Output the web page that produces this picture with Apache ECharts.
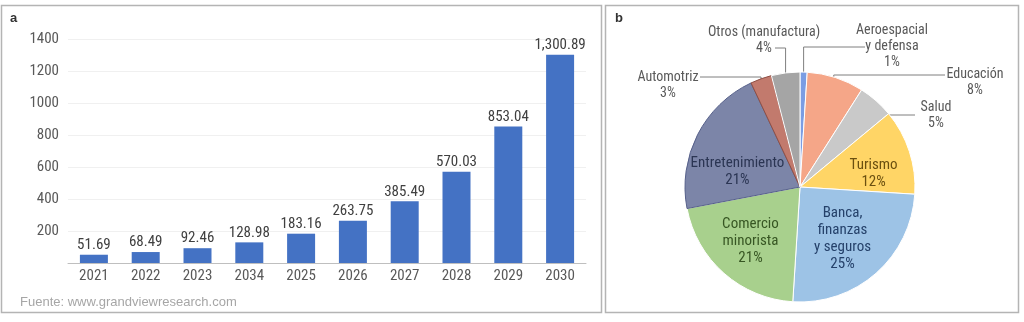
<!DOCTYPE html>
<html>
<head>
<meta charset="utf-8">
<title>Mercado y sectores</title>
<script src="https://cdn.jsdelivr.net/npm/echarts@6/dist/echarts.min.js"></script>
<style>
  html, body { margin: 0; padding: 0; background: #fff; }
  #chart { width: 1024px; height: 322px; }
</style>
</head>
<body>
<div id="chart"></div>
<script>
// Panel a: market size by year
const years = ['2021', '2022', '2023', '2034', '2025', '2026', '2027', '2028', '2029', '2030'];
const marketValues = [51.69, 68.49, 92.46, 128.98, 183.16, 263.75, 385.49, 570.03, 853.04, 1300.89];
const yAxisMin = 0;
const yAxisMax = 1400;
const yAxisStep = 200;

// Panel b: share by sector (%)
const sectorNames = [
  'Aeroespacial\ny defensa',
  'Educación',
  'Salud',
  'Turismo',
  'Banca,\nfinanzas\ny seguros',
  'Comercio\nminorista',
  'Entretenimiento',
  'Automotriz',
  'Otros (manufactura)'
];
const sectorShares = [1, 8, 5, 12, 25, 21, 21, 3, 4];

// ---- styling ----
const NARROW = "'Roboto Condensed', 'Noto Sans Condensed', 'Liberation Sans Narrow', 'Arial Narrow', 'DejaVu Sans Condensed', sans-serif";
const sliceColors = ['#7b9de3', '#f5a688', '#c9c9c9', '#ffd566', '#9dc3e6', '#a8d08d', '#7c85a8', '#c27a6d', '#a5a5a5'];
const sliceBorders = ['#ffffff', '#ffffff', '#ffffff', '#ffffff', '#ffffff', '#ffffff', '#56608a', '#8f4f45', '#ffffff'];
const innerTextColors = { 3: '#6b5010', 4: '#25416a', 5: '#375623', 6: '#2b3553' };

// pie geometry
const PIE_CX = 800, PIE_CY = 187, PIE_R = 115;

const total = sectorShares.reduce((a, b) => a + b, 0);
const midAngles = [];
{
  let acc = 0;
  sectorShares.forEach(v => { midAngles.push((acc + v / 2) / total * 360); acc += v; });
}
function polar(angleDeg, rf) {
  const a = angleDeg * Math.PI / 180;
  return [PIE_CX + PIE_R * rf * Math.sin(a), PIE_CY - PIE_R * rf * Math.cos(a)];
}

// label placement: outer labels with elbow leader lines, inner labels by polar spot
const outerLabels = {
  0: { rf: 1.0, elbowY: 47, endX: 865, at: [892, 46] },
  1: { rf: 0.95, elbowY: 75, endX: 945, at: [975, 82.5] },
  2: { angle: 49.5, rf: 0.97, elbowY: 115, endX: 915, at: [936, 115] },
  7: { rf: 1.0, elbowY: 77, endX: 700, at: [668, 85.5] },
  8: { rf: 1.0, elbowY: 48, endX: 775, at: [764, 40.5] }
};
const innerLabels = {
  3: { angle: 79.7, rf: 0.65 },
  4: { angle: 140.4, rf: 0.58 },
  5: { angle: 222.3, rf: 0.64 },
  6: { angle: 283.6, rf: 0.56 }
};

const pieData = sectorNames.map((name, i) => {
  const inner = innerLabels[i] !== undefined;
  return {
    name: name,
    value: sectorShares[i],
    itemStyle: { color: sliceColors[i], borderColor: sliceBorders[i], borderWidth: 1 },
    label: {
      position: inner ? 'inside' : 'outside',
      rich: {
        t: {
          align: 'center',
          fontFamily: NARROW,
          fontSize: inner ? 15 : 14,
          lineHeight: inner ? 17 : 16,
          color: inner ? innerTextColors[i] : '#595959'
        }
      }
    },
    labelLine: { show: !inner }
  };
});

const chart = echarts.init(document.getElementById('chart'), null, { renderer: 'canvas' });

chart.setOption({
  animation: false,
  backgroundColor: '#ffffff',
  grid: { left: 68, top: 39, width: 518, height: 224, containLabel: false },
  xAxis: {
    type: 'category',
    data: years,
    axisLine: { lineStyle: { color: '#bfbfbf', width: 1 } },
    axisTick: { show: false },
    axisLabel: { color: '#595959', fontFamily: NARROW, fontSize: 15, margin: 6 }
  },
  yAxis: {
    type: 'value',
    min: yAxisMin,
    max: yAxisMax,
    interval: yAxisStep,
    axisLine: { show: false },
    axisTick: { show: false },
    splitLine: { lineStyle: { color: '#f0f0f0', width: 1 } },
    axisLabel: {
      color: '#595959', fontFamily: NARROW, fontSize: 15, margin: 9,
      formatter: v => (v === 0 ? '' : String(v))
    }
  },
  series: [
    {
      type: 'bar',
      data: marketValues,
      barWidth: 28,
      itemStyle: { color: '#4472c4' },
      label: {
        show: true,
        position: 'top',
        distance: 2,
        color: '#404040',
        fontFamily: NARROW,
        fontSize: 15,
        formatter: p => p.value.toLocaleString('en-US', { minimumFractionDigits: 2, maximumFractionDigits: 2 })
      }
    },
    {
      type: 'pie',
      center: [PIE_CX, PIE_CY],
      radius: PIE_R,
      startAngle: 90,
      clockwise: true,
      avoidLabelOverlap: false,
      data: pieData,
      label: {
        show: true,
        formatter: p => p.name.split('\n').map(s => '{t|' + s + '}').join('\n') + '\n{t|' + p.value + '%}'
      },
      labelLine: { show: true, length: 0, length2: 0, smooth: false, lineStyle: { color: '#7f7f7f', width: 1 } },
      labelLayout: function (p) {
        const i = p.dataIndex;
        if (outerLabels[i]) {
          const c = outerLabels[i];
          const start = polar(c.angle !== undefined ? c.angle : midAngles[i], c.rf);
          return {
            x: c.at[0], y: c.at[1], align: 'center', verticalAlign: 'middle',
            labelLinePoints: [start, [start[0], c.elbowY], [c.endX, c.elbowY]]
          };
        }
        if (innerLabels[i]) {
          const c = innerLabels[i];
          const pt = polar(c.angle, c.rf);
          return { x: pt[0], y: pt[1], align: 'center', verticalAlign: 'middle' };
        }
      }
    }
  ],
  graphic: [
    { type: 'rect', shape: { x: 1.5, y: 5.5, width: 600, height: 307 }, style: { fill: 'none', stroke: '#b4b4b4', lineWidth: 1.5 }, silent: true },
    { type: 'rect', shape: { x: 605.5, y: 5.5, width: 413, height: 307 }, style: { fill: 'none', stroke: '#b4b4b4', lineWidth: 1.5 }, silent: true },
    { type: 'text', left: 10, top: 12, style: { text: 'a', fill: '#333333', font: 'bold 13px "Liberation Sans", Arial, sans-serif' } },
    { type: 'text', left: 615, top: 12, style: { text: 'b', fill: '#333333', font: 'bold 13px "Liberation Sans", Arial, sans-serif' } },
    { type: 'text', left: 20, top: 296, style: { text: 'Fuente: www.grandviewresearch.com', fill: '#a6a6a6', font: '13px "Liberation Sans", Arial, sans-serif' } }
  ]
});
</script>
</body>
</html>
